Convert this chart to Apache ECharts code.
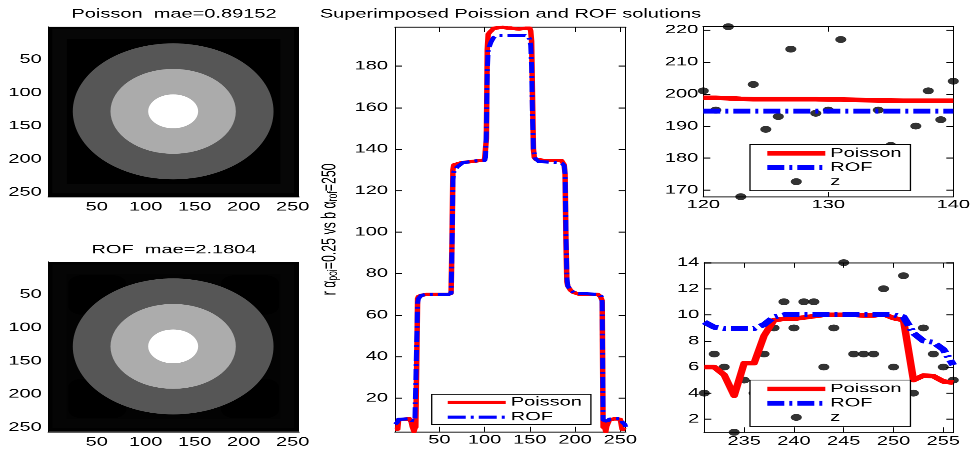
<!DOCTYPE html>
<html>
<head>
<meta charset="utf-8">
<script src="https://cdn.jsdelivr.net/npm/echarts@6/dist/echarts.min.js"></script>
<style>
html, body { margin:0; padding:0; background:#ffffff; width:972px; height:450px; overflow:hidden; }
#chart { width:972px; height:729px; transform:scaleY(0.6172839506); transform-origin:0 0; }
</style>
</head>
<body>
<div id="chart"></div>
<script>
// ---------------- data ----------------
const titles = ['Poisson  mae=0.89152', 'ROF  mae=2.1804', 'Superimposed Poission and ROF solutions'];

const imageTicks = [50, 100, 150, 200, 250];
const profileXTicks = [50, 100, 150, 200, 250];
const profileYTicks = [20, 40, 60, 80, 100, 120, 140, 160, 180];
const zoomAXTicks = [120, 130, 140];
const zoomAYTicks = [170, 180, 190, 200, 210, 220];
const zoomBXTicks = [235, 240, 245, 250, 255];
const zoomBYTicks = [2, 4, 6, 8, 10, 12, 14];

// image content (pixel units) and grey levels
const imageSpan = [0.5, 256.5];
const frameSpan = [4.5, 251.5];
const innerSpan = [19.5, 237.5];
const discCenter = [128, 128];
const discRadii = [102.5, 64, 25.5];
const poissonBackLevels = [5, 10, 5];
const poissonDiscLevels = [70, 134.5, 198.5];
const rofBackLevels = [7.5, 10, 9];
const rofCornerSpans = [[21, 80], [177, 236]];
const rofCornerLevel = [6.5];
const rofDiscLevels = [70, 133.5, 195];

// middle panel: profile vertices (column index, intensity) outside the two zoom windows
const poissonProfileX = [1,2,3,4,5,6,7,17,18,19,20,21,22,23,24,25,26,27,30,36,60,63,64,65,66,75,95,100,101,102,103,104,106,108,110,115,145,150,151,152,153,154,155,157,165,185,187,188,189,190,191,192,195,198,205,225,228,229,230];
const poissonProfileY = [4.9,5.3,5.35,5.0,9.6,9.8,10,10,9.6,8.4,6.3,6.3,3.8,5.4,6,6,68,69,69.5,70,70,70.5,95,130,132.4,133.5,134.5,134.8,135,145,188,195.4,196.5,197.3,198.3,198.5,198.3,198.3,197,192,165,140,136,135,134.6,134.5,134,132.5,128,95,76,74,72,71,70,70,69,68.5,67];
const rofProfileX = [1,2,3,4,5,6,17,18,19,20,23,24,25,26,27,30,36,60,63,64,65,66,70,76,90,100,101,102,103,104,107,110,113,116,145,148,150,151,152,153,154,156,160,183,186,188,189,190,191,192,195,200,226,229,230];
const rofProfileY = [7.4,7.9,8.0,8.6,9.8,10,10,9.85,9.2,8.95,8.95,9.0,9.5,66,68,69.5,70,70,70.5,92,125,129,131.5,133.5,134.3,134.6,136,148,178,188,191.5,193.8,194.6,194.7,194.7,194.2,193,190,180,155,140,135.5,134,133.5,133,132,128,98,78,74,72,70.5,70,69,66];

// top-right zoom window (columns 120..140)
const zoomAX = [120,121,122,123,124,125,126,127,128,129,130,131,132,133,134,135,136,137,138,139,140];
const zoomAPoisson = [198.8,198.8,198.7,198.5,198.4,198.4,198.4,198.4,198.4,198.4,198.3,198.3,198.2,198.1,198.0,198.0,197.9,197.9,197.9,197.9,197.9];
const zoomAROF = [194.7,194.7,194.7,194.7,194.7,194.7,194.7,194.7,194.7,194.7,194.7,194.7,194.7,194.7,194.7,194.7,194.7,194.7,194.7,194.7,194.7];
const zoomAZ = [201,195,221,168,203,189,193,214,178,194,195,217,176,181,195,184,171,190,201,192,204];

// bottom-right zoom window (columns 231..256)
const zoomBX = [231,232,233,234,235,236,237,238,239,240,241,242,243,244,245,246,247,248,249,250,251,252,253,254,255,256];
const zoomBPoisson = [6.0,6.0,5.4,3.8,6.3,6.3,8.4,9.6,9.7,9.7,9.8,9.9,10.0,10.0,10.0,10.0,9.95,9.95,10.05,9.75,9.6,5.0,5.35,5.3,4.9,4.8];
const zoomBROF = [9.45,9.05,8.95,8.95,8.95,8.95,9.25,9.85,10.0,10.0,10.0,10.0,10.0,10.0,10.0,10.0,10.0,10.0,10.0,10.0,9.85,8.6,8.0,7.9,7.35,6.15];
const zoomBZ = [4,7,6,1,5,4,7,9,11,9,11,11,6,9,14,7,7,7,12,6,13,4,9,7,6,5];

// ---------------- helpers ----------------
const FONT = "'Liberation Sans', Arial, Helvetica, sans-serif";
const RED = '#ff0000', BLUE = '#0000ff', BLACK = '#000000';

function zip(xs, ys) { return xs.map((x, i) => [x, ys[i]]); }
function merged(xs, ys, parts) {
  const pts = zip(xs, ys);
  parts.forEach(p => zip(p[0], p[1]).forEach(q => pts.push(q)));
  return pts.sort((a, b) => a[0] - b[0]);
}
function gray(v, lo, hi) {
  const g = Math.round(255 * Math.max(0, Math.min(1, (v - lo) / (hi - lo))));
  return 'rgb(' + g + ',' + g + ',' + g + ')';
}
function rectRender(lo, hi) {
  return function (params, api) {
    const a = api.coord([api.value(0), api.value(1)]);
    const b = api.coord([api.value(2), api.value(3)]);
    const r = api.size([api.value(4), api.value(4)]);
    return { type: 'rect', shape: { x: Math.min(a[0], b[0]), y: Math.min(a[1], b[1]), width: Math.abs(b[0] - a[0]), height: Math.abs(b[1] - a[1]), r: Math.min(r[0], r[1]) }, style: { fill: gray(api.value(5), lo, hi) } };
  };
}
function discRender(lo, hi) {
  return function (params, api) {
    const c = api.coord([api.value(0), api.value(1)]);
    const s = api.size([2 * api.value(2), 2 * api.value(2)]);
    return { type: 'circle', x: c[0], y: c[1], scaleX: 1, scaleY: s[1] / s[0], shape: { cx: 0, cy: 0, r: s[0] / 2 }, style: { fill: gray(api.value(3), lo, hi) } };
  };
}
function backRects(levels) { return [imageSpan, frameSpan, innerSpan].map((s, i) => [s[0], s[0], s[1], s[1], 0, levels[i]]); }
function cornerRects(spans, level) { const out = []; spans.forEach(sy => spans.forEach(sx => out.push([sx[0], sy[0], sx[1], sy[1], 14, level]))); return out; }
function discs(levels) { return discRadii.map((r, i) => [discCenter[0], discCenter[1], r, levels[i]]); }

function axis(gridIndex, position, min, max, ticks, opt) {
  const horiz = position === 'bottom' || position === 'top';
  const a = {
    type: 'value', gridIndex: gridIndex, position: position, min: min, max: max, inverse: !!opt.inverse,
    splitLine: { show: false }, splitArea: { show: false }, minorTick: { show: false },
    axisPointer: { show: false },
    axisLine: { show: true, onZero: false, lineStyle: { color: BLACK, width: horiz ? 1.6 : 1 } },
    axisTick: { show: opt.ticks !== false, inside: true, length: horiz ? 8 : 7, customValues: ticks, lineStyle: { color: BLACK, width: horiz ? 1 : 1.6 } },
    axisLabel: { show: !!opt.labels, customValues: ticks, margin: opt.margin || 0, color: BLACK, fontFamily: FONT, fontSize: 20, lineHeight: 20 }
  };
  if (opt.extra) Object.assign(a, opt.extra);
  return a;
}
function lineSeries(name, xi, yi, data, color, width, type) {
  return { type: 'line', name: name, xAxisIndex: xi, yAxisIndex: yi, data: data, symbol: 'none', showSymbol: false,
    lineStyle: { color: color, width: width, type: type || 'solid', cap: 'butt', join: 'round' },
    itemStyle: { color: color }, silent: true, animation: false, clip: true };
}
function dotSeries(name, xi, yi, data) {
  return { type: 'scatter', name: name, xAxisIndex: xi, yAxisIndex: yi, data: data, symbol: 'circle', symbolSize: 11,
    itemStyle: { color: BLACK }, silent: true, animation: false, clip: false };
}
function legendBox(names, left, top, padding, itemGap) {
  return { show: true, orient: 'vertical', left: left, top: top,
    data: names.map(n => n.charAt(0) === 'z' ? { name: n, icon: 'circle' } : { name: n, itemStyle: { opacity: 0 } }),
    formatter: n => n.split('#')[0], selectedMode: false, itemWidth: 58, itemHeight: 11, itemGap: itemGap, padding: padding,
    backgroundColor: '#ffffff', borderColor: BLACK, borderWidth: 1.3, borderRadius: 0,
    lineStyle: { width: 'inherit' },
    textStyle: { color: BLACK, fontFamily: FONT, fontSize: 20, lineHeight: 22 }, z: 10 };
}
function titleAt(text, x, top) {
  return { text: text, left: x, top: top, textAlign: 'center', padding: 0,
    textStyle: { color: BLACK, fontFamily: FONT, fontSize: 20, fontWeight: 'normal', lineHeight: 20 } };
}

const pAll = poissonBackLevels.concat(poissonDiscLevels);
const rAll = rofBackLevels.concat(rofDiscLevels, rofCornerLevel);
const pLo = Math.min.apply(null, pAll), pHi = Math.max.apply(null, pAll);
const rLo = Math.min.apply(null, rAll), rHi = Math.max.apply(null, rAll);

const DASH_MID = [18, 5, 3, 5];
const DASH_ZOOM = [17, 5, 3, 5];

const option = {
  backgroundColor: '#ffffff',
  animation: false,
  title: [titleAt(titles[0], 174, 13), titleAt(titles[1], 174, 395), titleAt(titles[2], 510.5, 13)],
  grid: [
    { left: 48.3, top: 43.2, width: 250.7, height: 275.4, outerBoundsMode: 'none' },
    { left: 48.3, top: 424, width: 250.7, height: 275.3, outerBoundsMode: 'none' },
    { left: 395, top: 44, width: 230.7, height: 655.3, outerBoundsMode: 'none' },
    { left: 703.3, top: 43.2, width: 250, height: 275.4, outerBoundsMode: 'none' },
    { left: 704.3, top: 425.5, width: 249, height: 274.8, outerBoundsMode: 'none' }
  ],
  xAxis: [
    axis(0, 'bottom', imageSpan[0], imageSpan[1], imageTicks, { labels: true, margin: 7, ticks: false }),
    axis(1, 'bottom', imageSpan[0], imageSpan[1], imageTicks, { labels: true, margin: 7, ticks: false }),
    axis(2, 'bottom', 1, 256, profileXTicks, { labels: true, margin: 3.5 }),
    axis(2, 'top', 1, 256, profileXTicks, {}),
    axis(3, 'bottom', 120, 140, zoomAXTicks, { labels: true, margin: 3.5 }),
    axis(3, 'top', 120, 140, zoomAXTicks, {}),
    axis(4, 'bottom', 231, 256, zoomBXTicks, { labels: true, margin: 4.5 }),
    axis(4, 'top', 231, 256, zoomBXTicks, {})
  ],
  yAxis: [
    axis(0, 'left', imageSpan[0], imageSpan[1], imageTicks, { labels: true, margin: 6.5, inverse: true, ticks: false }),
    axis(1, 'left', imageSpan[0], imageSpan[1], imageTicks, { labels: true, margin: 6.5, inverse: true, ticks: false }),
    axis(2, 'left', 3.8, 198.8, profileYTicks, { labels: true, margin: 7, extra: {
      name: '{m|r α}{s|poi}{m|=0.25 vs b α}{s|rof}{m|=250}', nameLocation: 'middle', nameRotate: 90, nameGap: 55,
      nameTextStyle: { color: BLACK, fontFamily: FONT, fontSize: 20, rich: {
        m: { color: BLACK, fontFamily: FONT, fontSize: 20, lineHeight: 20, verticalAlign: 'top' },
        s: { color: BLACK, fontFamily: FONT, fontSize: 14, lineHeight: 14, padding: [13, 0, 0, 0], verticalAlign: 'bottom' } } } } }),
    axis(2, 'right', 3.8, 198.8, profileYTicks, {}),
    axis(3, 'left', 168, 221, zoomAYTicks, { labels: true, margin: 5 }),
    axis(3, 'right', 168, 221, zoomAYTicks, {}),
    axis(4, 'left', 1, 14, zoomBYTicks, { labels: true, margin: 5 }),
    axis(4, 'right', 1, 14, zoomBYTicks, {})
  ],
  legend: [
    legendBox(['Poisson', 'ROF'], 431.7, 638.7, [2, 9, 1, 13.3], 2),
    legendBox(['Poisson#a', 'ROF#a', 'z#a'], 750, 233.8, [3.5, 9, 3.6, 13.3], 1),
    legendBox(['Poisson#b', 'ROF#b', 'z#b'], 750, 615.6, [3.5, 9, 3.6, 13.3], 1)
  ],
  series: [
    { type: 'custom', name: 'imgP-back', xAxisIndex: 0, yAxisIndex: 0, renderItem: rectRender(pLo, pHi), data: backRects(poissonBackLevels), clip: true, silent: true, animation: false },
    { type: 'custom', name: 'imgP-disc', xAxisIndex: 0, yAxisIndex: 0, renderItem: discRender(pLo, pHi), data: discs(poissonDiscLevels), clip: true, silent: true, animation: false },
    { type: 'custom', name: 'imgR-back', xAxisIndex: 1, yAxisIndex: 1, renderItem: rectRender(rLo, rHi), data: backRects(rofBackLevels).concat(cornerRects(rofCornerSpans, rofCornerLevel[0])), clip: true, silent: true, animation: false },
    { type: 'custom', name: 'imgR-disc', xAxisIndex: 1, yAxisIndex: 1, renderItem: discRender(rLo, rHi), data: discs(rofDiscLevels), clip: true, silent: true, animation: false },
    lineSeries('Poisson', 2, 2, merged(poissonProfileX, poissonProfileY, [[zoomAX, zoomAPoisson], [zoomBX, zoomBPoisson]]), RED, 5.5),
    lineSeries('ROF', 2, 2, merged(rofProfileX, rofProfileY, [[zoomAX, zoomAROF], [zoomBX, zoomBROF]]), BLUE, 5, DASH_MID),
    lineSeries('Poisson#a', 4, 4, zip(zoomAX, zoomAPoisson), RED, 7.5),
    lineSeries('ROF#a', 4, 4, zip(zoomAX, zoomAROF), BLUE, 8, DASH_ZOOM),
    dotSeries('z#a', 4, 4, zip(zoomAX, zoomAZ)),
    lineSeries('Poisson#b', 6, 6, zip(zoomBX, zoomBPoisson), RED, 7.5),
    lineSeries('ROF#b', 6, 6, zip(zoomBX, zoomBROF), BLUE, 8, DASH_ZOOM),
    dotSeries('z#b', 6, 6, zip(zoomBX, zoomBZ))
  ]
};

const chart = echarts.init(document.getElementById('chart'), null, { renderer: 'canvas', devicePixelRatio: 2 });
chart.setOption(option);
</script>
</body>
</html>
